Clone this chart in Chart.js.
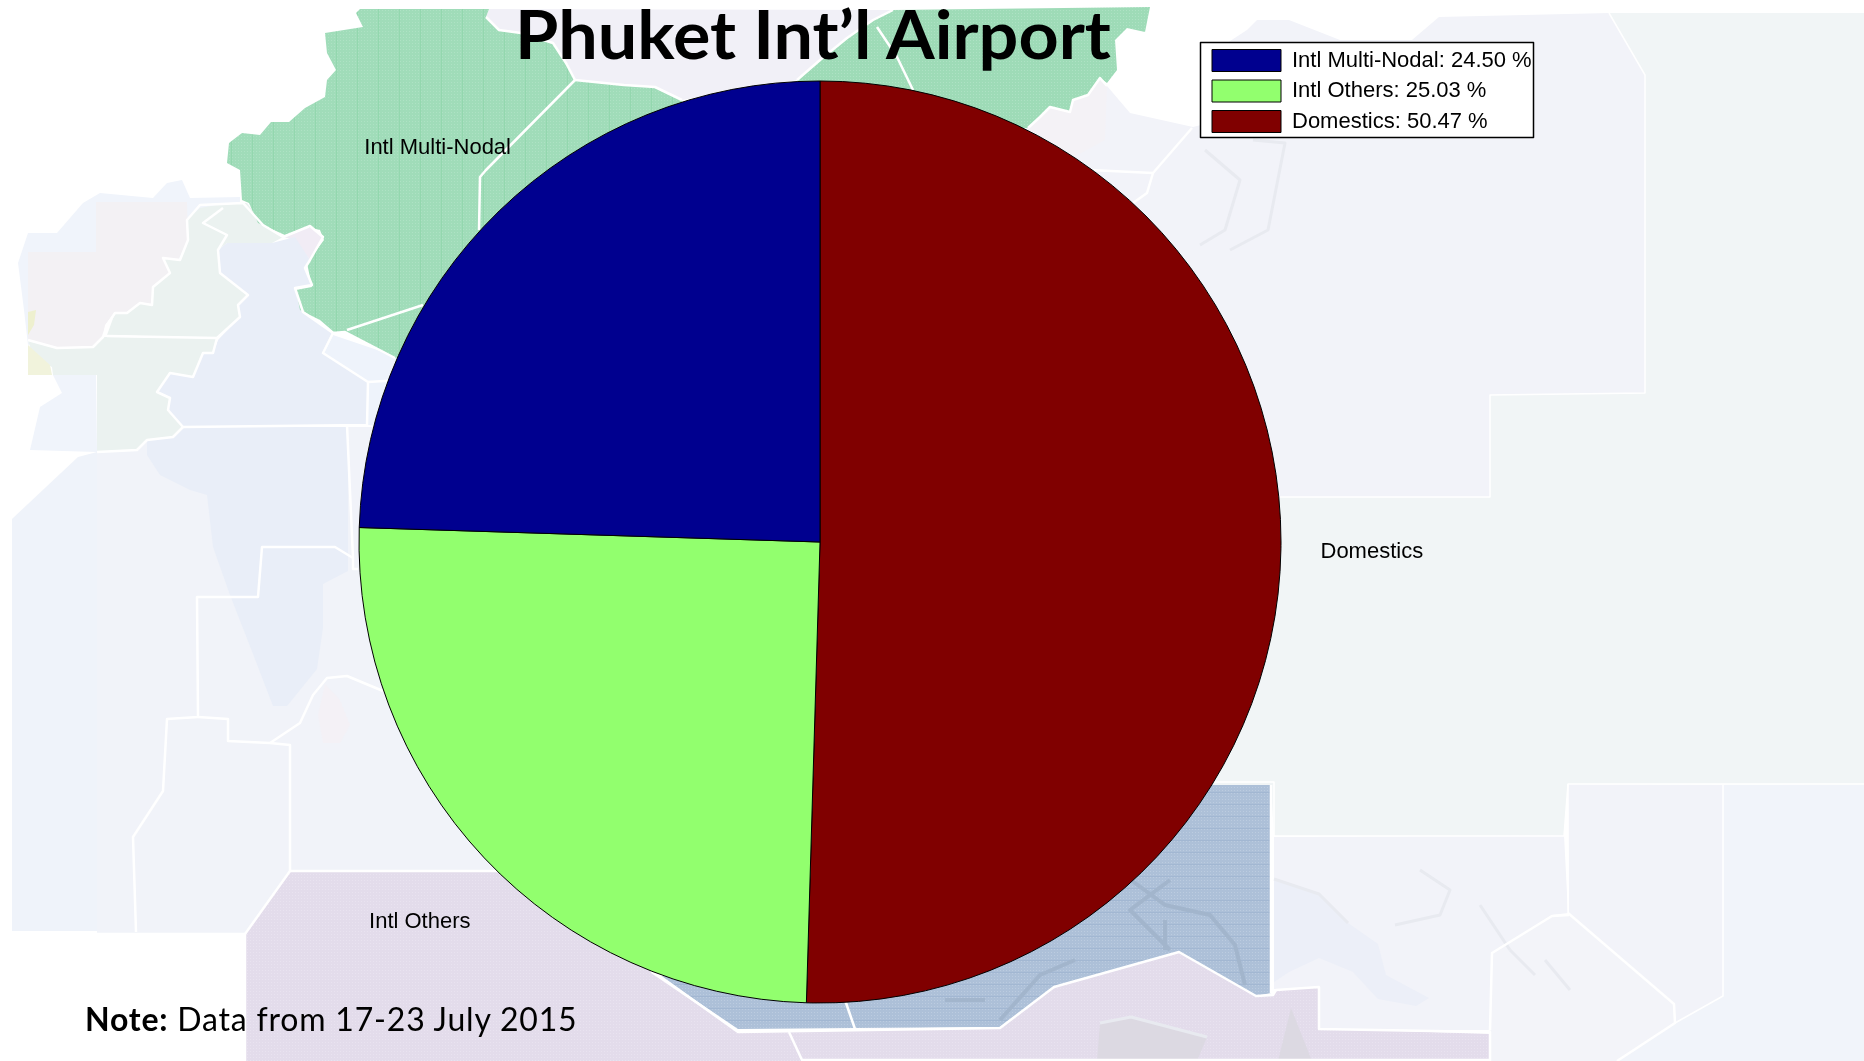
<!DOCTYPE html>
<html>
<head>
<meta charset="utf-8">
<title>Phuket Int'l Airport</title>
<script src="https://cdn.jsdelivr.net/npm/chart.js@4/dist/chart.umd.min.js"></script>
<style>
  html, body { margin: 0; padding: 0; background: #fff; overflow: hidden; }
  #wrap { position: relative; width: 1864px; height: 1061px; }
  canvas { position: absolute; left: 0; top: 0; }
  #title { position: absolute; left: 515px; top: -7px; font: bold 67px Lato, sans-serif; color: #000; white-space: nowrap; transform: scaleX(1.046); transform-origin: left; }
  #note { position: absolute; left: 85px; top: 999px; font: 32px Lato, sans-serif; letter-spacing: 0.8px; color: #000; white-space: nowrap; }
</style>
</head>
<body>
<div id="wrap">
  <canvas id="pie" width="1864" height="1061"></canvas>
  <div id="title">Phuket Int’l Airport</div>
  <div id="note"><b>Note:</b> Data from 17-23 July 2015</div>
</div>
<script>
// Chart data, clockwise from 12 o'clock
const categories = ["Domestics", "Intl Others", "Intl Multi-Nodal"];
const shares = [50.47, 25.03, 24.50];
const shareColors = ["#800000", "#92ff6e", "#00008f"];

// Faded map behind the pie
const seaColor = "#f1f3f9";
const pacificColor = "#f1f5f6";

const westPanel = [[12,519],[78,457],[97,452],[97,931],[12,931]];
const seaArea = [[97,452],[147,440],[183,427],[400,427],[700,600],[700,871],[290,871],[245,934],[97,934]];
const mapShapes = [
  {color: "#f0f4fb", pts: [[18,263],[28,233],[57,233],[83,203],[100,193],[153,198],[167,183],[182,180],[190,198],[240,197],[240,210],[190,260],[28,345],[24,310]]},
  {color: "#f3f1f4", pts: [[28,252],[96,252],[96,202],[187,202],[188,240],[178,260],[163,258],[170,273],[153,287],[152,305],[140,303],[127,313],[115,312],[105,325],[103,337],[93,347],[57,348],[28,340]]},
  {color: "#ebf2f0", pts: [[187,220],[200,208],[227,203],[247,203],[263,225],[283,237],[272,243],[227,243],[218,250],[220,273],[248,295],[238,305],[240,317],[217,338],[107,335],[115,313],[127,313],[140,303],[152,305],[153,287],[170,273],[163,258],[180,260],[188,240]]},
  {color: "#f1ecf5", pts: [[283,237],[310,226],[323,237],[310,260],[295,240]]},
  {color: "#e9eef8", pts: [[227,243],[272,243],[295,237],[310,260],[305,268],[312,285],[295,288],[303,312],[333,333],[323,353],[368,382],[367,425],[183,427],[168,410],[170,398],[157,392],[170,373],[193,377],[203,353],[213,353],[218,340],[240,317],[238,305],[248,295],[220,273],[218,250]]},
  {color: "#ebf2f0", pts: [[28,340],[57,348],[93,347],[103,337],[217,338],[213,353],[203,353],[193,377],[170,373],[157,392],[170,398],[168,410],[183,427],[173,437],[147,440],[137,450],[97,452],[97,375],[53,375],[52,367],[33,357]]},
  {color: "#f0f4fb", pts: [[96,375],[53,375],[62,393],[40,407],[30,450],[97,452]]},
  {color: "#f1f3dc", pts: [[28,345],[50,365],[52,375],[28,375]]},
  {color: "#eef0cf", pts: [[28,312],[36,310],[34,325],[28,335]]},
  {color: "#eef3fb", pts: [[333,335],[398,357],[400,427],[367,425],[368,382],[323,353]]},
  // Indian peninsula and Sri Lanka
  {color: "#e9eef8", pts: [[183,427],[348,427],[348,571],[323,584],[323,628],[317,669],[287,706],[273,706],[253,654],[230,595],[213,547],[207,495],[190,490],[160,475],[147,455],[147,440],[173,437]]},
  {color: "#f4f1f6", pts: [[325,684],[340,700],[350,725],[340,743],[323,743],[318,715]]},
  // Mongolia, Korea and the east
  {color: "#f1f0f7", pts: [[489,9],[893,10],[873,20],[847,38],[820,60],[797,80],[682,100],[655,87],[624,85],[575,80],[566,63],[553,43],[521,33],[499,30],[486,17]]},
  {color: pacificColor, pts: [[1609,13],[1864,13],[1864,785],[1568,784],[1564,836],[1274,836],[1271,785],[1000,785],[1000,497],[1490,497],[1490,395],[1645,393],[1645,75]]},
  {color: "#f2f3f9", pts: [[1247,30],[1257,20],[1289,20],[1340,40],[1412,40],[1439,17],[1609,13],[1645,75],[1645,393],[1490,395],[1490,497],[1000,497],[900,200],[1028,128],[1040,117],[1050,107],[1070,112],[1073,100],[1088,95],[1100,78],[1107,86],[1130,113],[1193,127],[1201,125],[1201,60]]},
  {color: "#f4f2f6", pts: [[1028,128],[1040,117],[1050,107],[1070,112],[1073,100],[1088,95],[1100,78],[1107,86],[1105,140],[1050,170],[1000,150]]},
  // New Guinea and Pacific blocks
  {color: "#f2f3f9", pts: [[1274,837],[1564,835],[1568,913],[1552,915],[1492,953],[1490,1030],[1319,1030],[1317,989],[1274,989]]},
  {color: "#eceff8", pts: [[1274,879],[1319,894],[1348,923],[1378,944],[1386,975],[1429,998],[1416,1006],[1378,999],[1353,972],[1319,958],[1289,972],[1274,982]]},
  {color: "#f2f3f9", pts: [[1568,784],[1723,785],[1723,996],[1675,1023],[1674,1004],[1569,915]]},
  {color: "#f1f4fa", pts: [[1723,785],[1864,785],[1864,1061],[1617,1061],[1675,1023],[1723,996]]},
  {color: "#f3f4f9", pts: [[1492,953],[1552,916],[1569,915],[1674,1004],[1675,1023],[1617,1061],[1490,1061]]}
];
const greenWest = [[360,9],[489,9],[486,17],[499,30],[521,33],[553,43],[566,63],[575,80],[624,85],[655,87],[682,100],[700,300],[395,358],[345,332],[334,332],[320,320],[300,310],[296,290],[312,287],[307,263],[324,240],[320,230],[307,227],[285,235],[258,223],[249,203],[242,200],[240,170],[227,163],[229,143],[242,133],[260,135],[271,122],[289,122],[305,108],[325,97],[327,80],[336,70],[327,53],[325,33],[363,27],[356,13]];
const greenEast = [[797,80],[820,60],[847,38],[873,20],[893,10],[1150,7],[1145,32],[1127,28],[1115,40],[1117,70],[1107,83],[1100,78],[1088,95],[1073,100],[1070,112],[1050,107],[1040,117],[1028,128],[800,140]];
const purpleArea = [[290,871],[620,871],[651,973],[738,1032],[789,1032],[855,1029],[1000,1028],[1054,987],[1179,952],[1256,996],[1273,995],[1276,990],[1319,987],[1319,1029],[1400,1031],[1490,1034],[1490,1061],[245,1061],[245,934]];
const blueArea = [[661,977],[738,1029],[855,1028],[1000,1027],[1054,987],[1179,952],[1256,996],[1271,993],[1271,785],[1212,785],[1000,800]];

const whiteLines = [
  [[28,340],[57,348],[93,347],[103,337],[107,325],[115,313],[127,313],[140,303],[152,305],[153,287],[170,273],[163,258],[180,260],[188,240],[187,220],[200,205],[243,203],[263,225],[283,237],[310,226],[323,237],[310,260],[305,268],[312,285],[295,288],[303,312],[333,333],[345,332],[395,358]],
  [[107,336],[217,338],[240,317],[238,305],[248,295],[220,273],[218,250],[227,235],[203,223],[223,208]],
  [[217,338],[213,353],[203,353],[193,377],[170,373],[157,392],[170,398],[168,410],[183,427],[173,437],[147,440],[137,450],[97,452]],
  [[183,427],[367,425],[368,382],[323,353],[333,333]],
  [[368,382],[400,380]],
  [[347,425],[353,558],[353,569],[358,569]],
  [[353,558],[335,547],[262,547],[258,597],[197,597],[198,717],[167,719],[163,791],[133,837],[136,932]],
  [[198,717],[228,719],[228,741],[270,743],[290,745],[290,871],[245,934],[97,934]],
  [[270,743],[300,723],[313,695],[327,678],[347,676],[383,691]],
  [[290,871],[700,871]],
  [[245,934],[245,1061]],
  [[661,977],[738,1032],[1000,1028],[1054,987],[1179,952],[1256,996],[1273,995],[1276,990],[1319,987],[1319,1029],[1490,1032],[1490,1061]],
  [[789,1032],[802,1060],[1490,1060]],
  [[845,1000],[855,1029]],
  [[575,80],[486,170],[480,177],[479,230]],
  [[486,17],[499,30],[521,33],[553,43],[566,63],[575,80],[624,85],[655,87],[682,100]],
  [[347,330],[423,305]],
  [[797,80],[820,60],[847,38],[873,20],[893,10]],
  [[877,27],[897,57],[913,90]],
  [[1028,128],[1040,117],[1050,107],[1070,112],[1073,100],[1088,95],[1100,78],[1107,86]],
  [[1192,128],[1153,173],[1147,193],[1133,203]],
  [[1090,170],[1153,173]],
  [[1271,785],[1271,993]],
  [[1568,913],[1674,1004],[1675,1023],[1617,1061]],
  [[1569,915],[1552,916],[1492,953],[1490,1030]]
];
// Boundaries that barely show on the pale east side
const faintLines = [
  [[1212,782],[1274,782],[1274,836],[1564,836],[1568,784],[1864,784]],
  [[1568,784],[1568,913]],
  [[1723,785],[1723,996],[1675,1023]],
  [[1609,13],[1645,75],[1645,393],[1490,395],[1490,497],[1280,497]]
];
// Thin coastlines drawn greyed out
const coastLines = [
  [[1253,140],[1285,143],[1268,230],[1230,250]],
  [[1205,150],[1240,180],[1225,230],[1200,245]],
  [[1274,879],[1319,894],[1348,923]],
  [[1100,1023],[1131,1017],[1207,1037]],
  [[1420,870],[1450,890],[1440,915],[1395,925]],
  [[1480,905],[1510,950]],
  [[1510,950],[1535,975]],
  [[1545,960],[1570,990]]
];
const islandLines = [
  [[1120,872],[1165,905],[1210,915],[1235,945],[1245,985]],
  [[1170,880],[1130,910],[1170,950]],
  [[1000,1020],[1040,975],[1075,960]],
  [[1165,920],[1165,950]],
  [[945,1000],[960,1000],[985,1000]]
];
const australiaLand = [
  [[1100,1023],[1131,1017],[1207,1037],[1197,1061],[1097,1061]],
  [[1278,1061],[1291,1008],[1312,1061]]
];

// Small repeating tiles for the stippled areas
function makeTile(size, base, dot, stripe, vertical) {
  const tile = document.createElement('canvas');
  tile.width = size;
  tile.height = size;
  const c = tile.getContext('2d');
  c.fillStyle = base;
  c.fillRect(0, 0, size, size);
  c.fillStyle = dot;
  for (let x = 1; x < size; x += 3) {
    for (let y = 1; y < size; y += 3) {
      c.fillRect(x, y, 1, 1);
    }
  }
  if (stripe) {
    c.fillStyle = stripe;
    if (vertical) {
      c.fillRect(0, 0, 1, size);
    } else {
      c.fillRect(0, 0, size, 1);
    }
  }
  return tile;
}

function fillPoly(ctx, pts, style) {
  ctx.beginPath();
  pts.forEach((p, i) => i ? ctx.lineTo(p[0], p[1]) : ctx.moveTo(p[0], p[1]));
  ctx.closePath();
  ctx.fillStyle = style;
  ctx.fill();
}

function strokeLine(ctx, pts, style, width) {
  ctx.beginPath();
  pts.forEach((p, i) => i ? ctx.lineTo(p[0], p[1]) : ctx.moveTo(p[0], p[1]));
  ctx.strokeStyle = style;
  ctx.lineWidth = width;
  ctx.lineJoin = 'round';
  ctx.stroke();
}

// Map goes under everything, legend frame on top of the map
const mapBackground = {
  id: 'mapBackground',
  beforeDraw(chart) {
    const ctx = chart.ctx;
    ctx.save();
    ctx.fillStyle = '#fff';
    ctx.fillRect(0, 0, chart.width, chart.height);
    fillPoly(ctx, westPanel, "#eff3fa");
    fillPoly(ctx, seaArea, seaColor);
    mapShapes.forEach(s => fillPoly(ctx, s.pts, s.color));

    const green = ctx.createPattern(makeTile(21, "#a0dcb9", "#aee2c4", "#93d7ae", true), 'repeat');
    fillPoly(ctx, greenWest, green);
    const greenPlain = ctx.createPattern(makeTile(21, "#9edbb7", "#aee2c4"), 'repeat');
    fillPoly(ctx, greenEast, greenPlain);
    const purple = ctx.createPattern(makeTile(21, "#e3dceb", "#e9e3f0"), 'repeat');
    fillPoly(ctx, purpleArea, purple);
    australiaLand.forEach(a => fillPoly(ctx, a, "#dcd9e2"));
    const blue = ctx.createPattern(makeTile(12, "#adc0d8", "#bccce0", "#a2b7d2", false), 'repeat');
    fillPoly(ctx, blueArea, blue);
    islandLines.forEach(l => strokeLine(ctx, l, "#a2b5cc", 4));
    coastLines.forEach(l => strokeLine(ctx, l, "#e8eaf0", 3));
    whiteLines.forEach(l => strokeLine(ctx, l, "#fff", 2.5));
    faintLines.forEach(l => strokeLine(ctx, l, "#fff", 1.5));

    // legend frame
    ctx.fillStyle = '#fff';
    ctx.fillRect(1200, 42, 334, 96);
    ctx.strokeStyle = '#000';
    ctx.lineWidth = 1.5;
    ctx.strokeRect(1200.5, 42.5, 333, 95);
    ctx.restore();
  },
  afterLayout(chart) {
    const legend = chart.legend;
    legend.left = 1203.5;
    legend.top = 41;
    legend.right = legend.left + legend.width;
    legend.bottom = legend.top + legend.height;
  }
};

// Category name outside each slice
const sliceNames = {
  id: 'sliceNames',
  afterDatasetsDraw(chart) {
    const ctx = chart.ctx;
    ctx.save();
    ctx.font = '22px "Liberation Sans", Arial, sans-serif';
    ctx.fillStyle = '#000';
    ctx.textAlign = 'center';
    ctx.textBaseline = 'middle';
    chart.getDatasetMeta(0).data.forEach((arc, i) => {
      const mid = (arc.startAngle + arc.endAngle) / 2;
      const r = arc.outerRadius * 1.195;
      ctx.fillText(categories[i], arc.x + Math.cos(mid) * r + 1, arc.y + Math.sin(mid) * r + 2);
    });
    ctx.restore();
  }
};

new Chart(document.getElementById('pie'), {
  type: 'pie',
  data: {
    labels: categories,
    datasets: [{
      data: shares,
      backgroundColor: shareColors,
      borderColor: '#000',
      borderWidth: 1,
      radius: 461
    }]
  },
  options: {
    responsive: false,
    animation: false,
    layout: { padding: { left: 0, right: 224, top: 23, bottom: 0 } },
    plugins: {
      title: { display: false },
      tooltip: { enabled: false },
      legend: {
        position: 'chartArea',
        align: 'start',
        reverse: true,
        labels: {
          boxWidth: 69,
          boxHeight: 22,
          padding: 8.5,
          color: '#000',
          font: { family: '"Liberation Sans", Arial, sans-serif', size: 22 },
          generateLabels(chart) {
            const items = Chart.overrides.doughnut.plugins.legend.labels.generateLabels(chart);
            items.forEach((item, i) => {
              item.text = categories[i] + ': ' + shares[i].toFixed(2) + ' %';
            });
            return items;
          }
        }
      }
    }
  },
  plugins: [mapBackground, sliceNames]
});
</script>
</body>
</html>
